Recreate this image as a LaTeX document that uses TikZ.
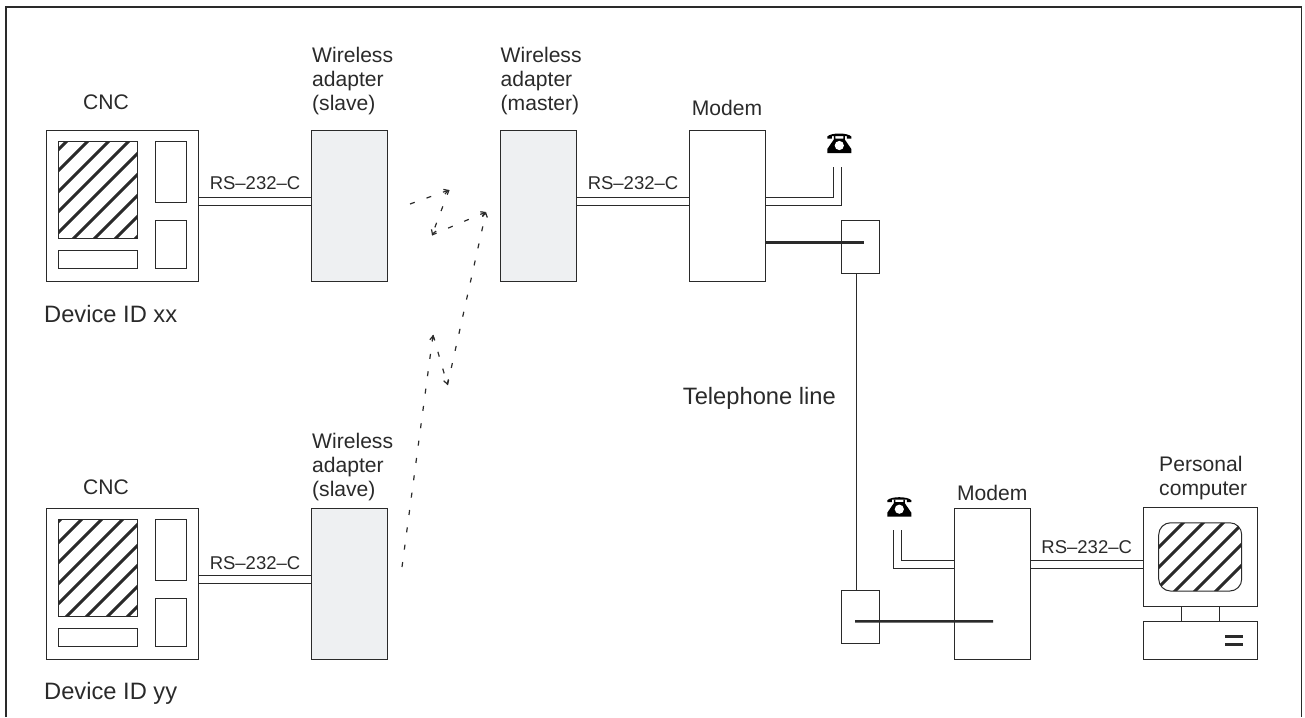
\documentclass[tikz,border=0pt]{standalone}
\usepackage{fontspec}
\setmainfont{Liberation Sans}
\usetikzlibrary{arrows.meta,backgrounds}
\definecolor{ink}{HTML}{2A2A2A}
\definecolor{shade}{HTML}{EEF0F2}
\tikzset{
  box/.style={draw=ink,line width=1pt,inner sep=0pt,outer sep=0pt},
  adapter/.style={box,fill=shade,minimum width=76pt,minimum height=151pt},
  modem/.style={box,minimum width=76pt,minimum height=151pt},
  jack/.style={box,minimum width=38pt,minimum height=53.3pt},
  txt/.style={inner sep=0pt,align=left,text=ink,font=\fontsize{21.1}{23.7}\selectfont},
  small/.style={inner sep=0pt,text=ink,font=\fontsize{18.5}{20}\selectfont},
  big/.style={inner sep=0pt,text=ink,font=\fontsize{23.7}{26}\selectfont},
  phone/.style={inner sep=0pt,minimum width=24pt,minimum height=20pt},
  cable/.style={draw=ink,line width=1pt,double=white,double distance=6.6pt},
  wire/.style={draw=ink,line width=1pt},
  heavy/.style={draw=ink,line width=2.6pt},
  hatch/.style={draw=ink,line width=3pt},
  radio/.style={draw=ink,line width=1.2pt,dash pattern=on 5pt off 12.5pt,-{Straight Barb[length=4pt,width=5pt]}},
  telset/.pic={
    \fill[black] (-12,-4.5) -- (-12,-6.5) .. controls (-8,-10.5) and (8,-10.5) .. (12,-6.5) -- (12,-4.5) -- (7.5,-4.5) -- (7.5,-7) -- (-7.5,-7) -- (-7.5,-4.5) -- cycle;
    \fill[black] (-5.5,-7) -- (-4,-7) -- (-4,-4.5) -- (4,-4.5) -- (4,-7) -- (5.5,-7) -- (5.5,-3.5) -- (12,6) -- (12,10) -- (-12,10) -- (-12,6) -- (-5.5,-3.5) -- cycle;
    \fill[white] (0,2.5) circle (4.6);
  }
}
\begin{document}
\begin{tikzpicture}[x=1pt,y=-1pt]
      \useasboundingbox (0,0) rectangle (1305,717);
      \draw[ink,line width=1.8pt] (6,717) -- (6,7) -- (1301.5,7) -- (1301.5,717);
      \draw
        (122.25,205.5) node[box,minimum width=151.5pt,minimum height=151pt] (cnc1){}
        (98,190) node[box,minimum width=79pt,minimum height=97pt] (scr1){}
        (170.75,171.75) node[box,minimum width=30.5pt,minimum height=60.5pt] (keyA1){}
        (170.75,244.5) node[box,minimum width=30.5pt,minimum height=48pt] (keyB1){}
        (98,259.5) node[box,minimum width=79pt,minimum height=18pt] (pnl1){}
        (349.25,205.5) node[adapter] (adp1){}
        (122.25,583.5) node[box,minimum width=151.5pt,minimum height=151pt] (cnc2){}
        (98,568) node[box,minimum width=79pt,minimum height=97pt] (scr2){}
        (170.75,549.75) node[box,minimum width=30.5pt,minimum height=60.5pt] (keyA2){}
        (170.75,622.5) node[box,minimum width=30.5pt,minimum height=48pt] (keyB2){}
        (98,637.5) node[box,minimum width=79pt,minimum height=18pt] (pnl2){}
        (349.25,583.5) node[adapter] (adp2){}
        (538.3,205.5) node[adapter] (adpm){}
        (727.3,205.5) node[modem] (mod1){}
        (992.2,583.5) node[modem] (mod2){}
        (860,246.7) node[jack] (jack1){}
        (860,617.3) node[jack] (jack2){}
        (1200.2,556.9) node[box,minimum width=113.7pt,minimum height=98.3pt] (mon){}
        (1200.2,556.9) node[box,rounded corners=12pt,minimum width=83pt,minimum height=68.3pt] (scr3){}
        (1200.2,640.2) node[box,minimum width=113.7pt,minimum height=37.7pt] (base){};
      \draw
        (106,102) node[txt] (lcnc1){CNC}
        (106,487.7) node[txt] (lcnc2){CNC}
        (312,81) node[txt,anchor=west] (ladp1){Wireless\\adapter\\(slave)}
        (312,467) node[txt,anchor=west] (ladp2){Wireless\\adapter\\(slave)}
        (500.5,81) node[txt,anchor=west] (ladpm){Wireless\\adapter\\(master)}
        (727,107.7) node[txt] (lmod1){Modem}
        (992.3,492.7) node[txt] (lmod2){Modem}
        (1159,478) node[txt,anchor=west] (lpc){Personal\\computer}
        (255,183) node[small] (lrs1){RS--232--C}
        (255,563.3) node[small] (lrs2){RS--232--C}
        (633,183) node[small] (lrs3){RS--232--C}
        (1086.7,546.7) node[small] (lrs4){RS--232--C}
        (44,322) node[big,anchor=base west] (lid1){Device ID xx}
        (44,699) node[big,anchor=base west] (lid2){Device ID yy}
        (682.7,404) node[big,anchor=base west] (lline){Telephone line}
        (839.3,143) node[phone] (tel1){}
        (899.3,506.7) node[phone] (tel2){};
      \pic at (tel1) {telset};
      \pic at (tel2) {telset};
      \coordinate (end1) at (837.5,167.3);
      \coordinate (end2) at (897.5,530);
      \coordinate (zA) at (410,204);
      \coordinate (zB) at (449,190);
      \coordinate (zC) at (432,235);
      \coordinate (zD) at (486,212);
      \coordinate (zE) at (402,567);
      \coordinate (zF) at (433,335);
      \coordinate (zG) at (447.5,385);
      \begin{scope}[on background layer]
        \draw[cable] ([yshift=4pt]cnc1.east) to ([yshift=4pt]adp1.west);
        \draw[cable] ([yshift=4pt]cnc2.east) to ([yshift=4pt]adp2.west);
        \draw[cable] ([yshift=4pt]adpm.east) to ([yshift=4pt]mod1.west);
        \draw[cable] ([yshift=4pt]mod1.east) -| (end1);
        \draw[cable] ([yshift=19pt]mod2.west) -| (end2);
        \draw[cable] ([yshift=19pt]mod2.east) to ([yshift=-7.6pt]mon.west);
      \end{scope}
      \begin{scope}[-]
        \draw[heavy] ([yshift=-37.2pt]mod1.east) to ([xshift=4.3pt,yshift=4pt]jack1.center);
        \draw[heavy] ([xshift=-5pt,yshift=-4pt]jack2.center) to ([xshift=1pt,yshift=-37.9pt]mod2.center);
        \draw[wire] ([xshift=-4pt]jack1.south) to ([xshift=-4pt]jack2.north);
        \draw[wire] ([xshift=-19pt]mon.south) to ([xshift=-19pt]base.north);
        \draw[wire] ([xshift=19pt]mon.south) to ([xshift=19pt]base.north);
        \draw[heavy] ([xshift=25pt,yshift=4pt]base.center) to ([xshift=43pt,yshift=4pt]base.center);
        \draw[heavy] ([xshift=25pt,yshift=-4pt]base.center) to ([xshift=43pt,yshift=-4pt]base.center);
      \end{scope}
      \begin{scope}
        \clip (scr1.north west) rectangle (scr1.south east);
        \draw[hatch] (67,141) -- (-31,239);
        \draw[hatch] (88,141) -- (-10,239);
        \draw[hatch] (109,141) -- (11,239);
        \draw[hatch] (129,141) -- (31,239);
        \draw[hatch] (150,141) -- (52,239);
        \draw[hatch] (171,141) -- (73,239);
        \draw[hatch] (192,141) -- (94,239);
        \draw[hatch] (213,141) -- (115,239);
        \draw[hatch] (233,141) -- (135,239);
      \end{scope}
      \begin{scope}
        \clip (scr2.north west) rectangle (scr2.south east);
        \draw[hatch] (61,519) -- (-37,617);
        \draw[hatch] (82,519) -- (-16,617);
        \draw[hatch] (102,519) -- (4,617);
        \draw[hatch] (123,519) -- (25,617);
        \draw[hatch] (143,519) -- (45,617);
        \draw[hatch] (164,519) -- (66,617);
        \draw[hatch] (184,519) -- (86,617);
        \draw[hatch] (205,519) -- (107,617);
        \draw[hatch] (225,519) -- (127,617);
      \end{scope}
      \begin{scope}
        \clip[rounded corners=12pt] (scr3.north west) rectangle (scr3.south east);
        \draw[hatch] (1184,522) -- (1114,592);
        \draw[hatch] (1204,522) -- (1134,592);
        \draw[hatch] (1224,522) -- (1154,592);
        \draw[hatch] (1244,522) -- (1174,592);
        \draw[hatch] (1264,522) -- (1194,592);
        \draw[hatch] (1285,522) -- (1215,592);
      \end{scope}
      \draw[radio] (zA) to (zB);
      \draw[radio] (zB) to (zC);
      \draw[radio] (zC) to (zD);
      \draw[radio] (zE) to (zF);
      \draw[radio] (zF) to (zG);
      \draw[radio] (zG) to (zD);
    \end{tikzpicture}
\end{document}
